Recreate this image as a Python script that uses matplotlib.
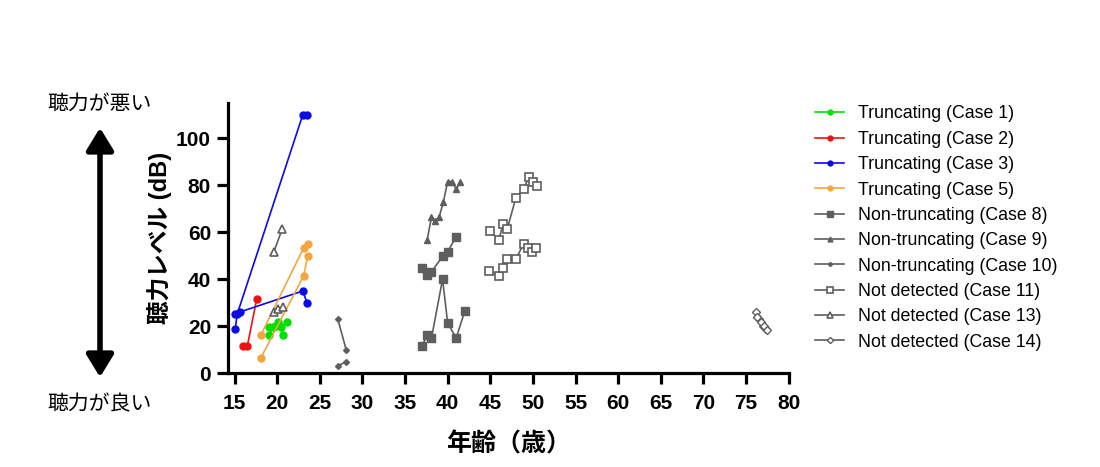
import matplotlib
matplotlib.use("Agg")
import matplotlib.pyplot as plt

plt.rcParams['font.family'] = ['Liberation Sans', 'Noto Sans CJK JP', 'DejaVu Sans']

# ---- data (age, hearing level dB); two ears per case where visible ----
case1_age_a = [19.1, 19.5, 20.1, 20.5, 21.1]
case1_db_a = [16.3, 19.6, 21.6, 19.5, 21.6]
case1_age_b = [19.1, 19.6, 20.1, 20.7]
case1_db_b = [19.6, 19.5, 21.0, 16.3]

case2_age = [16.0, 16.5, 17.6]
case2_db = [11.5, 11.5, 31.5]

case3_age_a = [15.1, 15.3, 23.0, 23.5]
case3_db_a = [19, 25, 110, 110]
case3_age_b = [15.1, 15.6, 23.0, 23.5]
case3_db_b = [25, 26, 35, 30]

case5_age_a = [18.1, 23.1, 23.6]
case5_db_a = [6.6, 41.4, 50]
case5_age_b = [18.1, 23.1, 23.6]
case5_db_b = [16.3, 53.3, 55]

case8_age_a = [37.0, 37.6, 38.1, 39.4, 40.0, 41.0, 42.0]
case8_db_a = [11.6, 16.3, 14.9, 40, 21.4, 14.9, 26.4]
case8_age_b = [37.0, 37.6, 38.1, 39.4, 40.0, 41.0]
case8_db_b = [45, 41.7, 43.1, 49.8, 51.7, 58.2]

case9_age = [37.6, 38.1, 38.5, 39.0, 39.5, 40.0, 40.5, 41.0, 41.5]
case9_db = [56.8, 66.5, 64.8, 66.5, 73, 81.6, 81.6, 78.3, 81.6]

case10_age_a = [27.1, 28.1]
case10_db_a = [23.2, 9.9]
case10_age_b = [27.1, 28.1]
case10_db_b = [3.0, 4.9]

case11_age_a = [45.0, 46.0, 46.5, 47.0, 48.0, 48.9, 49.5, 50.0, 50.5]
case11_db_a = [60.4, 56.8, 63.4, 61.5, 74.8, 78.3, 83.4, 81.6, 79.9]
case11_age_b = [44.9, 46.0, 46.5, 47.0, 48.0, 48.9, 49.4, 49.9, 50.4]
case11_db_b = [43.3, 41.4, 45, 48.6, 48.6, 55, 53.2, 51.5, 53.2]

case13_age_a = [19.6, 20.6]
case13_db_a = [51.5, 61.5]
case13_age_b = [19.6, 20.1, 20.7]
case13_db_b = [26.0, 27.2, 28.3]

case14_age_a = [76.2, 76.5, 77.0, 77.3]
case14_db_a = [26.2, 23.2, 20.2, 18.8]
case14_age_b = [76.3, 76.7, 77.1, 77.5]
case14_db_b = [24.0, 21.9, 20.0, 18.5]

labels = ["Truncating (Case 1)", "Truncating (Case 2)", "Truncating (Case 3)",
          "Truncating (Case 5)", "Non-truncating (Case 8)", "Non-truncating (Case 9)",
          "Non-truncating (Case 10)", "Not detected (Case 11)", "Not detected (Case 13)",
          "Not detected (Case 14)"]

xticks = list(range(15, 81, 5))
yticks = [0, 20, 40, 60, 80, 100]

GREEN = "#00e000"
RED = "#f01010"
BLUE = "#0a0ae6"
ORANGE = "#f5a540"
GRAY = "#5e5e5e"

fig = plt.figure(figsize=(11, 4.67), dpi=100)
ax = fig.add_axes([0.207, 0.201, 0.51, 0.578])

def plot_case(series, color, marker, label, ms, mfc=None, mew=1.0):
    first = True
    for xs, ys in series:
        ax.plot(xs, ys, color=color, marker=marker, markersize=ms, lw=1.2,
                markerfacecolor=(mfc if mfc is not None else color),
                markeredgecolor=color, markeredgewidth=mew,
                label=label if first else None, clip_on=False)
        first = False

plot_case([(case1_age_a, case1_db_a), (case1_age_b, case1_db_b)], GREEN, 'o', labels[0], 5)
plot_case([(case2_age, case2_db)], RED, 'o', labels[1], 5)
plot_case([(case3_age_a, case3_db_a), (case3_age_b, case3_db_b)], BLUE, 'o', labels[2], 5)
plot_case([(case5_age_a, case5_db_a), (case5_age_b, case5_db_b)], ORANGE, 'o', labels[3], 5)
plot_case([(case8_age_a, case8_db_a), (case8_age_b, case8_db_b)], GRAY, 's', labels[4], 5.5)
plot_case([(case9_age, case9_db)], GRAY, '^', labels[5], 5)
plot_case([(case10_age_a, case10_db_a), (case10_age_b, case10_db_b)], GRAY, 'D', labels[6], 3)
plot_case([(case11_age_a, case11_db_a), (case11_age_b, case11_db_b)], GRAY, 's', labels[7], 6, mfc='white', mew=1.2)
plot_case([(case13_age_a, case13_db_a), (case13_age_b, case13_db_b)], GRAY, '^', labels[8], 6, mfc='white', mew=1.2)
plot_case([(case14_age_a, case14_db_a), (case14_age_b, case14_db_b)], GRAY, 'D', labels[9], 4.5, mfc='white', mew=1.0)

ax.set_xlim(14.2, 80)
ax.set_ylim(0, 115)
ax.set_xticks(xticks)
ax.set_yticks(yticks)
for s in ['top', 'right']:
    ax.spines[s].set_visible(False)
for s in ['left', 'bottom']:
    ax.spines[s].set_linewidth(2.3)
ax.tick_params(axis='both', direction='out', length=8, width=2.3, labelsize=15)
ax.tick_params(axis='x', pad=7)
ax.tick_params(axis='y', pad=4)
for t in ax.get_xticklabels() + ax.get_yticklabels():
    t.set_fontweight('bold')

ax.set_xlabel("年齢（歳）", fontsize=18, fontweight='bold', labelpad=14)
ax.set_ylabel("聴力レベル (dB)", fontsize=17, fontweight='bold', labelpad=3)

leg = ax.legend(loc='upper left', bbox_to_anchor=(1.034, 1.018), frameon=False,
                fontsize=12.8, handlelength=1.65, labelspacing=0.47, handletextpad=0.8,
                borderaxespad=0)
for h in leg.legend_handles:
    h.set_markersize(h.get_markersize() * 0.7)

# Left-side annotation
fig.text(100 / 1100, 1 - 104 / 467, "聴力が悪い", ha='center', va='center', fontsize=15)
fig.text(100 / 1100, 1 - 405 / 467, "聴力が良い", ha='center', va='center', fontsize=15)
fig.add_artist(matplotlib.patches.FancyArrowPatch(
    (100 / 1100, 1 - 380 / 467), (100 / 1100, 1 - 125 / 467),
    transform=fig.transFigure, arrowstyle='<|-|>,head_length=9,head_width=5.5',
    color='black', lw=4, mutation_scale=1.5))

fig.savefig("out.png", dpi=100)
